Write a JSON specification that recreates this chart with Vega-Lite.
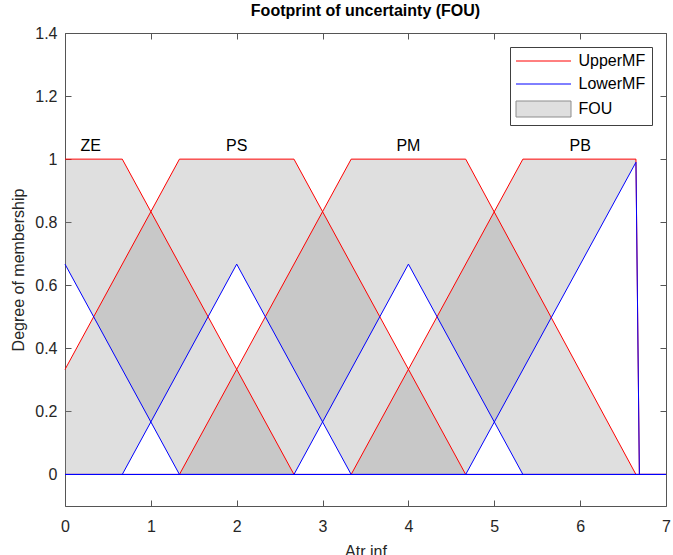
{
  "$schema": "https://vega.github.io/schema/vega-lite/v6.json",
  "width": 601,
  "height": 473,
  "autosize": "none",
  "padding": {"left": 65, "top": 33, "right": 7, "bottom": 49},
  "background": "white",
  "config": {
    "view": {"stroke": "#555555", "strokeWidth": 1},
    "font": "Liberation Sans",
    "axis": {"grid": false, "domain": false, "tickColor": "#555555", "labelColor": "#262626", "labelFontSize": 16, "labelFont": "Liberation Sans", "titleFont": "Liberation Sans", "titleFontSize": 16, "titleFontWeight": "normal", "titleColor": "#262626", "labelFlush": false}
  },
  "title": {"text": "Footprint of uncertainty (FOU)", "fontSize": 16, "fontWeight": "bold", "font": "Liberation Sans", "color": "#000000", "offset": 6},
  "datasets": {
    "lines": [
      {"mf": "ZE", "series": "UpperMF", "x": 0, "y": 1},
      {"mf": "ZE", "series": "UpperMF", "x": 0.667, "y": 1},
      {"mf": "ZE", "series": "UpperMF", "x": 2.667, "y": 0},
      {"mf": "ZE", "series": "UpperMF", "x": 7, "y": 0},
      {"mf": "PS", "series": "UpperMF", "x": 0, "y": 0.333},
      {"mf": "PS", "series": "UpperMF", "x": 1.333, "y": 1},
      {"mf": "PS", "series": "UpperMF", "x": 2.667, "y": 1},
      {"mf": "PS", "series": "UpperMF", "x": 4.667, "y": 0},
      {"mf": "PS", "series": "UpperMF", "x": 7, "y": 0},
      {"mf": "PM", "series": "UpperMF", "x": 0, "y": 0},
      {"mf": "PM", "series": "UpperMF", "x": 1.333, "y": 0},
      {"mf": "PM", "series": "UpperMF", "x": 3.333, "y": 1},
      {"mf": "PM", "series": "UpperMF", "x": 4.667, "y": 1},
      {"mf": "PM", "series": "UpperMF", "x": 6.65, "y": 0},
      {"mf": "PM", "series": "UpperMF", "x": 7, "y": 0},
      {"mf": "PB", "series": "UpperMF", "x": 0, "y": 0},
      {"mf": "PB", "series": "UpperMF", "x": 3.333, "y": 0},
      {"mf": "PB", "series": "UpperMF", "x": 5.333, "y": 1},
      {"mf": "PB", "series": "UpperMF", "x": 6.65, "y": 1},
      {"mf": "PB", "series": "UpperMF", "x": 6.69, "y": 0},
      {"mf": "PB", "series": "UpperMF", "x": 7, "y": 0},
      {"mf": "ZE", "series": "LowerMF", "x": 0, "y": 0.667},
      {"mf": "ZE", "series": "LowerMF", "x": 1.333, "y": 0},
      {"mf": "ZE", "series": "LowerMF", "x": 7, "y": 0},
      {"mf": "PS", "series": "LowerMF", "x": 0, "y": 0},
      {"mf": "PS", "series": "LowerMF", "x": 0.667, "y": 0},
      {"mf": "PS", "series": "LowerMF", "x": 2, "y": 0.667},
      {"mf": "PS", "series": "LowerMF", "x": 3.333, "y": 0},
      {"mf": "PS", "series": "LowerMF", "x": 7, "y": 0},
      {"mf": "PM", "series": "LowerMF", "x": 0, "y": 0},
      {"mf": "PM", "series": "LowerMF", "x": 2.667, "y": 0},
      {"mf": "PM", "series": "LowerMF", "x": 4, "y": 0.667},
      {"mf": "PM", "series": "LowerMF", "x": 5.333, "y": 0},
      {"mf": "PM", "series": "LowerMF", "x": 7, "y": 0},
      {"mf": "PB", "series": "LowerMF", "x": 0, "y": 0},
      {"mf": "PB", "series": "LowerMF", "x": 4.667, "y": 0},
      {"mf": "PB", "series": "LowerMF", "x": 6.65, "y": 0.99},
      {"mf": "PB", "series": "LowerMF", "x": 6.69, "y": 0},
      {"mf": "PB", "series": "LowerMF", "x": 7, "y": 0}
    ],
    "fou": [
      {"mf": "ZE", "series": "FOU", "x": 0, "u": 1, "l": 0.667},
      {"mf": "ZE", "series": "FOU", "x": 0.667, "u": 1, "l": 0.333},
      {"mf": "ZE", "series": "FOU", "x": 1.333, "u": 0.667, "l": 0},
      {"mf": "ZE", "series": "FOU", "x": 2.667, "u": 0, "l": 0},
      {"mf": "PS", "series": "FOU", "x": 0, "u": 0.333, "l": 0},
      {"mf": "PS", "series": "FOU", "x": 0.667, "u": 0.667, "l": 0},
      {"mf": "PS", "series": "FOU", "x": 1.333, "u": 1, "l": 0.333},
      {"mf": "PS", "series": "FOU", "x": 2, "u": 1, "l": 0.667},
      {"mf": "PS", "series": "FOU", "x": 2.667, "u": 1, "l": 0.333},
      {"mf": "PS", "series": "FOU", "x": 3.333, "u": 0.667, "l": 0},
      {"mf": "PS", "series": "FOU", "x": 4.667, "u": 0, "l": 0},
      {"mf": "PM", "series": "FOU", "x": 1.333, "u": 0, "l": 0},
      {"mf": "PM", "series": "FOU", "x": 2.667, "u": 0.667, "l": 0},
      {"mf": "PM", "series": "FOU", "x": 3.333, "u": 1, "l": 0.333},
      {"mf": "PM", "series": "FOU", "x": 4, "u": 1, "l": 0.667},
      {"mf": "PM", "series": "FOU", "x": 4.667, "u": 1, "l": 0.333},
      {"mf": "PM", "series": "FOU", "x": 5.333, "u": 0.664, "l": 0},
      {"mf": "PM", "series": "FOU", "x": 6.65, "u": 0, "l": 0},
      {"mf": "PB", "series": "FOU", "x": 3.333, "u": 0, "l": 0},
      {"mf": "PB", "series": "FOU", "x": 4.667, "u": 0.667, "l": 0},
      {"mf": "PB", "series": "FOU", "x": 5.333, "u": 1, "l": 0.333},
      {"mf": "PB", "series": "FOU", "x": 6.65, "u": 1, "l": 0.99},
      {"mf": "PB", "series": "FOU", "x": 6.69, "u": 0, "l": 0}
    ],
    "labels": [
      {"x": 0.3, "y": 1.027, "t": "ZE"},
      {"x": 2, "y": 1.027, "t": "PS"},
      {"x": 4, "y": 1.027, "t": "PM"},
      {"x": 6, "y": 1.027, "t": "PB"}
    ]
  },
  "layer": [
    {
      "data": {"name": "fou"},
      "mark": {"type": "area", "fillOpacity": 0.28, "strokeWidth": 0},
      "encoding": {
        "x": {"field": "x", "type": "quantitative", "scale": {"domain": [0, 7], "nice": false, "zero": false}, "axis": {"orient": "bottom", "values": [0, 1, 2, 3, 4, 5, 6, 7], "tickSize": -6, "labelPadding": 18, "title": "Atr inf", "titlePadding": 9}},
        "y": {"field": "u", "type": "quantitative", "scale": {"domain": [-0.1, 1.4], "nice": false, "zero": false}, "axis": {"orient": "left", "values": [0, 0.2, 0.4, 0.6, 0.8, 1, 1.2, 1.4], "format": ".1~f", "tickSize": -6, "labelPadding": 14, "title": "Degree of membership", "titlePadding": 8}},
        "y2": {"field": "l"},
        "detail": {"field": "mf"},
        "color": {
          "field": "series", "type": "nominal",
          "scale": {"domain": ["UpperMF", "LowerMF", "FOU"], "range": ["#ff0000", "#0000ff", "#8d8d8d"]},
          "legend": {
            "title": null, "orient": "top-right", "offset": 14,
            "strokeColor": "#404040", "fillColor": "white", "padding": 6,
            "labelFontSize": 16, "labelFont": "Liberation Sans", "labelColor": "#000000",
            "symbolSize": 100, "symbolOffset": 19.5, "labelOffset": 27, "rowPadding": 7,
            "encode": {
              "symbols": {
                "update": {
                  "shape": {"signal": "datum.value === 'FOU' ? 'M-5.5,-1.6H5.5V1.6H-5.5Z' : 'M-5.5,0H5.5'"},
                  "fill": {"signal": "datum.value === 'FOU' ? '#8d8d8d' : 'transparent'"},
                  "stroke": {"signal": "datum.value === 'UpperMF' ? '#ff0000' : (datum.value === 'LowerMF' ? '#0000ff' : 'transparent')"},
                  "strokeWidth": {"value": 1},
                  "opacity": {"value": 1},
                  "fillOpacity": {"signal": "datum.value === 'FOU' ? 0.28 : 0"},
                  "strokeOpacity": {"value": 1}
                }
              }
            }
          }
        }
      }
    },
    {
      "data": {"name": "lines"},
      "transform": [{"filter": "datum.series === 'UpperMF'"}],
      "mark": {"type": "line", "strokeWidth": 1},
      "encoding": {
        "x": {"field": "x", "type": "quantitative", "axis": null},
        "y": {"field": "y", "type": "quantitative", "axis": null},
        "detail": {"field": "mf"},
        "color": {"field": "series", "type": "nominal"}
      }
    },
    {
      "data": {"name": "lines"},
      "transform": [{"filter": "datum.series === 'LowerMF'"}],
      "mark": {"type": "line", "strokeWidth": 1},
      "encoding": {
        "x": {"field": "x", "type": "quantitative", "axis": null},
        "y": {"field": "y", "type": "quantitative", "axis": null},
        "detail": {"field": "mf"},
        "color": {"field": "series", "type": "nominal"}
      }
    },
    {
      "data": {"name": "labels"},
      "mark": {"type": "text", "fontSize": 16, "font": "Liberation Sans", "color": "#000000", "baseline": "alphabetic", "align": "center"},
      "encoding": {
        "x": {"field": "x", "type": "quantitative", "axis": {"orient": "top", "values": [0, 1, 2, 3, 4, 5, 6, 7], "labels": false, "title": null, "tickSize": -6}},
        "y": {"field": "y", "type": "quantitative", "axis": {"orient": "right", "values": [0, 0.2, 0.4, 0.6, 0.8, 1, 1.2, 1.4], "labels": false, "title": null, "tickSize": -6}},
        "text": {"field": "t"}
      }
    }
  ],
  "resolve": {"axis": {"x": "independent", "y": "independent"}}
}
